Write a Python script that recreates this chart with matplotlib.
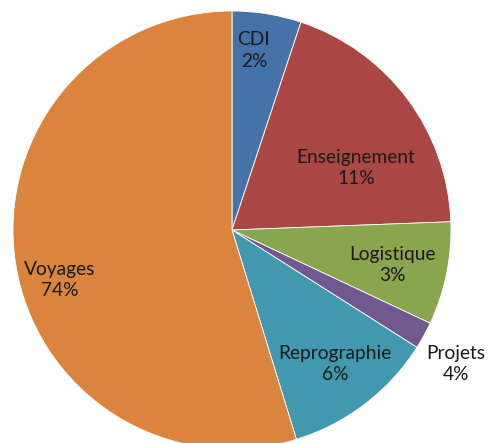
import numpy as np
import matplotlib
matplotlib.use("Agg")
import matplotlib.pyplot as plt

# slice sizes (share of the circle, %), and the printed labels
categories = ["CDI", "Enseignement", "Logistique", "Projets", "Reprographie", "Voyages"]
shares = [5.1, 19.3, 7.6, 2.0, 11.25, 54.75]
printed_pct = ["2%", "11%", "3%", "4%", "6%", "74%"]

colors = ["#4572A7", "#AA4643", "#89A54E", "#71588F", "#4198AF", "#DB843D"]
# label centres in pie units (radius = 1)
label_pos = [(0.10, 0.82), (0.566, 0.283), (0.735, -0.16),
             (1.023, -0.612), (0.47, -0.612), (-0.785, -0.228)]

fig = plt.figure(figsize=(4.91, 4.43), dpi=100)
ax = fig.add_axes([0, 0, 1, 1])
ax.pie(shares, colors=colors, startangle=90, counterclock=False,
       wedgeprops=dict(edgecolor="white", linewidth=0.6))

for cat, pct, (x, y) in zip(categories, printed_pct, label_pos):
    ax.text(x, y, "%s\n%s" % (cat, pct), ha="center", va="center",
            fontsize=13.8, family="Lato", color="#1a1a1a", linespacing=1.3)

ax.set_xlim(-232/219, 259/219)
ax.set_ylim(-213/219, 230/219)
ax.set_aspect("auto")
ax.axis("off")
fig.savefig("out.png", dpi=100)
